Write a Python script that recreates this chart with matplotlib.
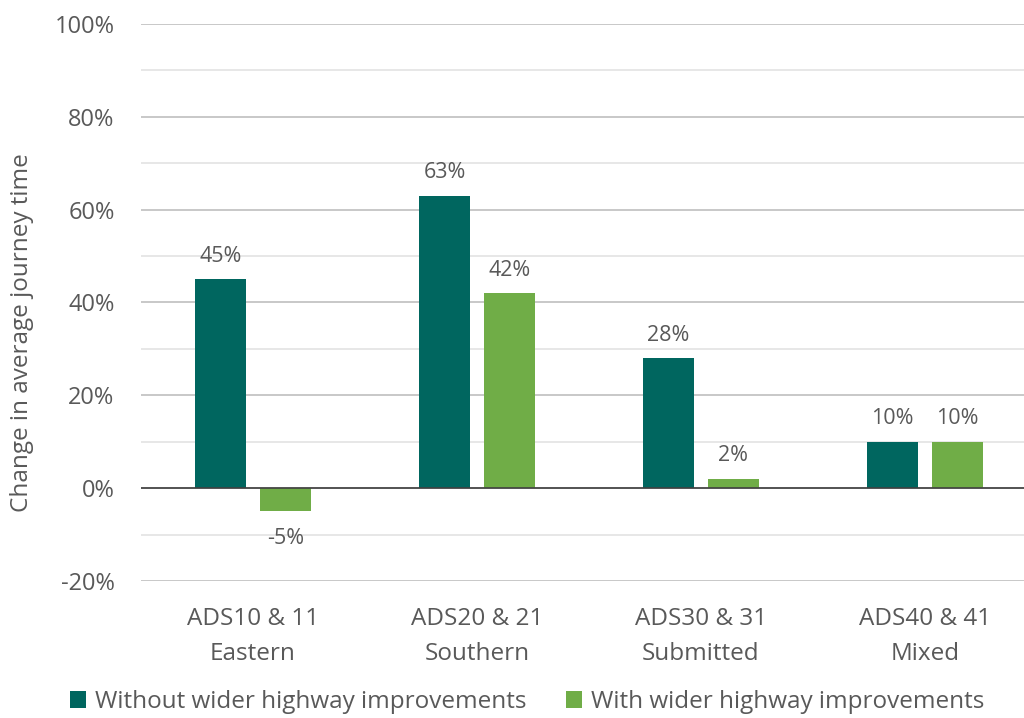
import numpy as np
import matplotlib.pyplot as plt
from matplotlib.ticker import MultipleLocator, FuncFormatter

plt.rcParams['font.family'] = ['Open Sans', 'DejaVu Sans']

categories = ["ADS10 & 11\nEastern", "ADS20 & 21\nSouthern",
              "ADS30 & 31\nSubmitted", "ADS40 & 41\nMixed"]
without_vals = [45, 63, 28, 10]
with_vals = [-5, 42, 2, 10]
series_names = ["Without wider highway improvements",
                "With wider highway improvements"]

teal = "#00665F"
green = "#70AD47"
text_col = "#595959"

fig = plt.figure(figsize=(10.24, 7.18), dpi=100)
ax = fig.add_axes([0.1377, 0.1908, 0.875, 0.7758])

x = np.arange(len(categories))
w = 0.228
off = 0.145
b1 = ax.bar(x - off, without_vals, w, color=teal, label=series_names[0], zorder=3)
b2 = ax.bar(x + off, with_vals, w, color=green, label=series_names[1], zorder=3)

for bars, vals in [(b1, without_vals), (b2, with_vals)]:
    for rect, v in zip(bars, vals):
        cx = rect.get_x() + rect.get_width() / 2
        if v >= 0:
            ax.annotate(f"{v}%", (cx, v), xytext=(0, 9), textcoords="offset points",
                        ha="center", va="bottom", fontsize=15.5, color=text_col)
        else:
            ax.annotate(f"{v}%", (cx, v), xytext=(0, -12), textcoords="offset points",
                        ha="center", va="top", fontsize=15.5, color=text_col)

ax.set_xlim(-0.5, len(categories) - 0.5)
ax.set_ylim(-20, 100)
ax.yaxis.set_major_locator(MultipleLocator(20))
ax.yaxis.set_minor_locator(MultipleLocator(10))
ax.yaxis.set_major_formatter(FuncFormatter(lambda v, p: f"{v:.0f}%"))
ax.grid(axis="y", which="major", color="#BFBFBF", linewidth=1.2, zorder=0)
ax.grid(axis="y", which="minor", color="#E3E3E3", linewidth=1.2, zorder=0)
ax.axhline(0, color="#404040", linewidth=1.2, zorder=4)

for s in ax.spines.values():
    s.set_visible(False)
ax.tick_params(axis="both", which="both", length=0, labelcolor=text_col)
ax.tick_params(axis="y", pad=19, labelsize=17)
ax.tick_params(axis="x", pad=19, labelsize=17.5)
ax.set_xticks(x)
ax.set_xticklabels(categories, linespacing=1.6)

fig.text(0.021, 1 - 333 / 718, "Change in average journey time", rotation=90,
         ha="center", va="center", fontsize=17.5, color=text_col)

fig.legend(handles=[b1, b2], labels=series_names, loc="center",
           bbox_to_anchor=(0.515, 1 - 702 / 718), ncol=2, frameon=False,
           fontsize=17.5, labelcolor=text_col, handlelength=0.65, handleheight=0.65,
           handletextpad=0.4, columnspacing=1.6, borderpad=0.1)

fig.savefig("out.png", dpi=100)
